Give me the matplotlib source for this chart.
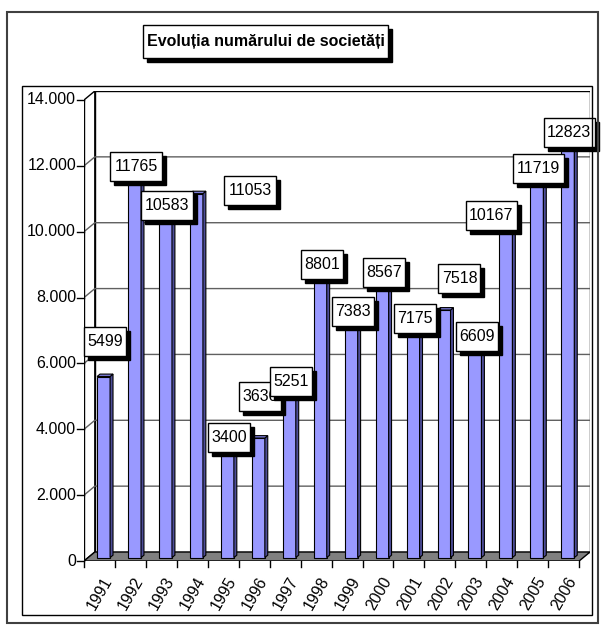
import numpy as np
import matplotlib.pyplot as plt
from matplotlib.patches import Rectangle
from matplotlib.transforms import Affine2D, ScaledTranslation

plt.rcParams['font.family'] = ['Liberation Sans', 'DejaVu Sans']

# data
years = ['1991', '1992', '1993', '1994', '1995', '1996', '1997', '1998',
         '1999', '2000', '2001', '2002', '2003', '2004', '2005', '2006']
societati = [5499, 11765, 10583, 11053, 3400, 3630, 5251, 8801,
             7383, 8567, 7175, 7518, 6609, 10167, 11719, 12823]
yticks = [0, 2000, 4000, 6000, 8000, 10000, 12000, 14000]
title = 'Evoluția numărului de societăți'

# label nudges as in the original (manually moved labels)
lab_dx = [0, 0, 0, 1.68, 0, 0, 0, 0, 0, 0, 0, 0.45, 0, -0.52, 0, 0]
lab_dy = [950, 0, 0, 0, 150, 1150, 0, 0, 0, 0, 0, 850, 0, 130, 0, 0]

W, H = 602, 626
fig = plt.figure(figsize=(W / 100, H / 100), dpi=100)


def boxed_text(parent, x, y, s, trans, w, h, z, shadow=4, **kw):
    # white box with black drop shadow, sized in pixels around (x, y)
    at = Affine2D() + ScaledTranslation(x, y, trans)
    for off, fc, zz in ((shadow, 'black', z), (0, 'white', z + 0.1)):
        r = Rectangle((-w / 2 + off, -h / 2 - off), w, h, transform=at, fc=fc,
                      ec='black', lw=1, zorder=zz, clip_on=False)
        if hasattr(parent, 'add_patch'):
            parent.add_patch(r)
        else:
            parent.add_artist(r)
    parent.text(x, y, s, transform=trans, ha='center', va='center', zorder=z + 0.2, **kw)


# pseudo 3d depth (in data units)
ddx, ddy = 0.35, 273
ymax = yticks[-1]
n = len(years)
x0, x1 = -0.5, n - 0.5

left_px, right_px, top_px, bot_px = 84, 590, 91, 561
ax = fig.add_axes([left_px / W, 1 - bot_px / H, (right_px - left_px) / W, (bot_px - top_px) / H])
ax.set_xlim(x0, x1 + ddx)
ax.set_ylim(0, ymax + ddy)
ax.axis('off')

# walls and floor
ax.fill([x0, x0 + ddx, x0 + ddx, x0], [0, ddy, ymax + ddy, ymax], fc='white', ec='black', lw=1, zorder=1)
ax.fill([x0 + ddx, x1 + ddx, x1 + ddx, x0 + ddx], [ddy, ddy, ymax + ddy, ymax + ddy],
        fc='white', ec='black', lw=1, zorder=1)
ax.fill([x0, x1, x1 + ddx, x0 + ddx], [0, 0, ddy, ddy], fc='#808080', ec='black', lw=1, zorder=2)
for v in yticks[1:-1]:
    ax.plot([x0, x0 + ddx, x1 + ddx], [v, v + ddy, v + ddy], color='#606060', lw=1, zorder=1.5)

# front axes
ax.plot([x0, x0], [0, ymax], color='black', lw=1, zorder=2)
tlx = 7 / 30.94
tly = 6 / ((bot_px - 99.5) / ymax)
for v in yticks:
    ax.plot([x0 - tlx, x0], [v, v], color='black', lw=1, zorder=2, clip_on=False)
    ax.text(x0 - tlx - 0.03, v, '{:,}'.format(v).replace(',', '.'), ha='right', va='center',
            fontsize=11.5)
for i in range(n + 1):
    ax.plot([x0 + i, x0 + i], [0, -tly], color='black', lw=1, clip_on=False)
for i, yr in enumerate(years):
    ax.text(i + 0.1, -tly - 230, yr, rotation=60, ha='right', va='top',
            rotation_mode='anchor', fontsize=11.5)

# bars
fx, fy = 0.38 * ddx, 0.38 * ddy
bx, by = 0.27 * ddx, 0.27 * ddy
bw = 0.42
xs = np.arange(n) + fx
vals = np.array(societati)
ax.bar(xs, vals, width=bw, bottom=fy, color='#9999ff', edgecolor='black', lw=0.8, zorder=3)
for i, v in enumerate(vals):
    xr = xs[i] + bw / 2
    xl = xs[i] - bw / 2
    ax.fill([xr, xr + bx, xr + bx, xr], [fy, fy + by, fy + v + by, fy + v],
            fc='#4d4d99', ec='black', lw=0.8, zorder=3)
    ax.fill([xl, xr, xr + bx, xl + bx], [fy + v, fy + v, fy + v + by, fy + v + by],
            fc='#7a7ad6', ec='black', lw=0.8, zorder=3)

# data labels with shadow
for i, v in enumerate(vals):
    s = str(v)
    lx = xs[i] + lab_dx[i] + 0.05
    ly = v + fy + 100 + lab_dy[i]
    boxed_text(ax, lx, ly, s, ax.transData, 9.5 * len(s) + 4, 29, 10 + i, fontsize=11.5)

# title with shadow
boxed_text(fig, 265.5 / W, 1 - 41.5 / H, title, fig.transFigure, 245, 33, 5,
           fontsize=11.5, fontweight='bold')

# frames
fig.add_artist(Rectangle((7 / W, 1 - 623 / H), (598 - 7) / W, (623 - 12) / H,
                         transform=fig.transFigure, fill=False, ec='#404040', lw=1.5))
fig.add_artist(Rectangle((22 / W, 1 - 615 / H), (592 - 22) / W, (615 - 86) / H,
                         transform=fig.transFigure, fill=False, ec='black', lw=1))

fig.savefig('out.png', dpi=100)
